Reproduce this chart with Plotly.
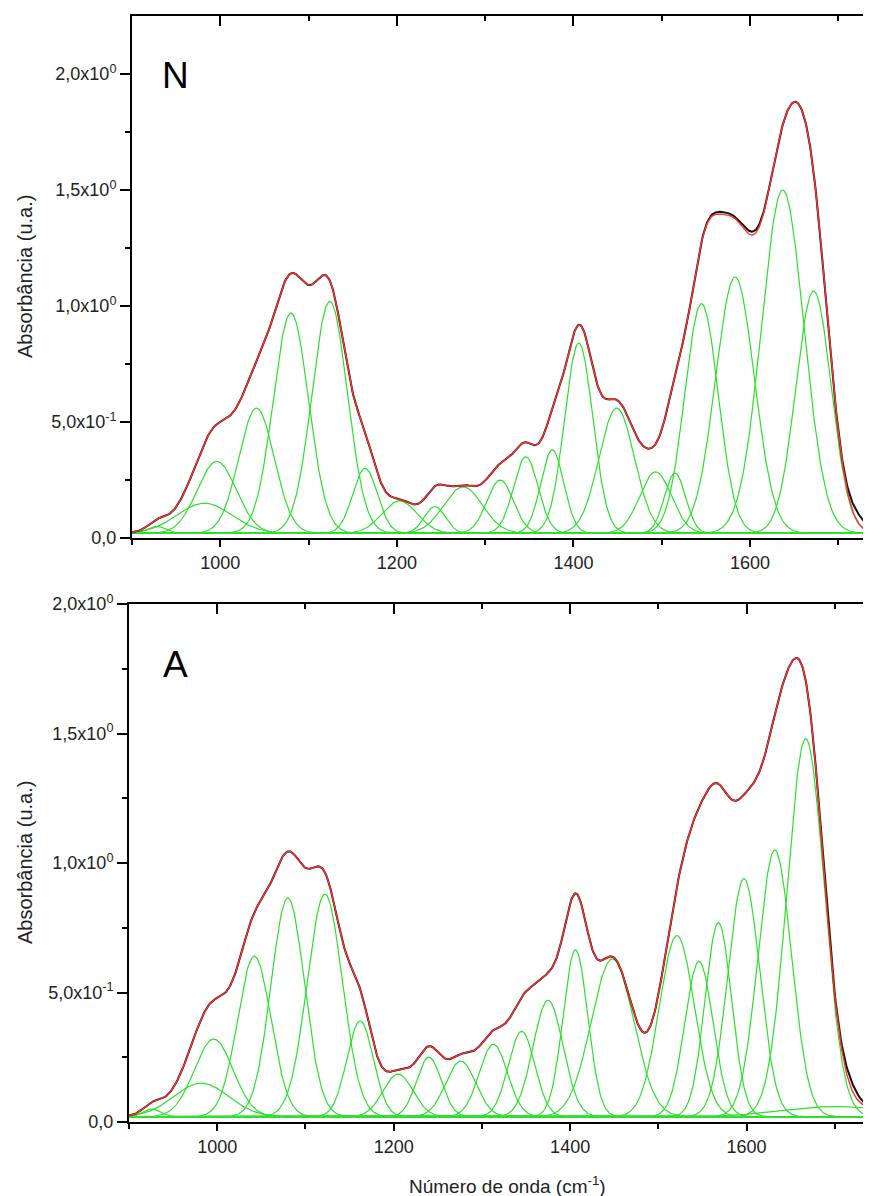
import numpy as np
import plotly.graph_objects as go

# ---------------- data ----------------
# Panel N : Gaussian components (center cm-1, height, sigma cm-1)
N_centers = [928, 982, 996, 1041, 1080, 1124, 1164, 1203, 1243, 1275, 1317, 1346, 1376,
             1406, 1449, 1493, 1515, 1545, 1583, 1637, 1672]
N_heights = [0.03, 0.13, 0.31, 0.54, 0.95, 1.00, 0.28, 0.14, 0.115, 0.20, 0.23, 0.33, 0.36,
             0.82, 0.54, 0.265, 0.26, 0.99, 1.105, 1.48, 1.045]
N_sigmas = [10, 31, 22, 20, 20, 20, 14, 20, 12, 22, 15, 14, 13,
            16, 20, 18, 12, 19, 22, 24, 20]
# small differences between measured spectrum (black) and fit (red), panel N
N_resid_centers = [1568, 1602, 1722]
N_resid_heights = [0.01, 0.015, 0.04]
N_resid_sigmas = [12, 10, 10]

# Panel A : Gaussian components
A_centers = [926, 982, 996, 1042, 1080, 1122, 1162, 1205, 1240, 1276, 1313, 1345, 1375,
             1406, 1448, 1521, 1546, 1568, 1597, 1632, 1667, 1700]
A_heights = [0.03, 0.13, 0.30, 0.62, 0.845, 0.86, 0.37, 0.165, 0.23, 0.215, 0.28, 0.33, 0.45,
             0.645, 0.61, 0.70, 0.60, 0.75, 0.92, 1.03, 1.46, 0.04]
A_sigmas = [10, 31, 22, 19, 19, 20, 15, 17, 14, 17, 16, 15, 17,
            14, 24, 20, 16, 15, 18, 19, 21, 60]
A_resid_centers = [1718]
A_resid_heights = [0.03]
A_resid_sigmas = [10]

BASELINE = 0.02
wn = np.arange(900, 1746, 1.0)

y_tickvals = [0, 0.5, 1.0, 1.5, 2.0]
y_ticktext = ["0,0", "5,0x10<sup>-1</sup>", "1,0x10<sup>0</sup>", "1,5x10<sup>0</sup>", "2,0x10<sup>0</sup>"]
y_minor = [0.25, 0.75, 1.25, 1.75]
panel_labels = ["N", "A"]
y_title = "Absorbância (u.a.)"
x_title = "Número de onda (cm<sup>-1</sup>)"

# ---------------- figure ----------------
# the page body has an 8 px margin, so every screen position below is
# converted to figure coordinates by removing that offset
OFF = 8
W, H = 871 - OFF, 1196 - OFF
FONT = "Arial, Liberation Sans, sans-serif"
GREEN = "#2de02d"


def fx(p):
    return (p - OFF) / W


def fy(p):
    return 1 - (p - OFF) / H


def gauss(c, h, s):
    return h * np.exp(-(wn - c) ** 2 / (2.0 * s * s))


fig = go.Figure()

panels = [
    (N_centers, N_heights, N_sigmas, N_resid_centers, N_resid_heights, N_resid_sigmas, "x", "y"),
    (A_centers, A_heights, A_sigmas, A_resid_centers, A_resid_heights, A_resid_sigmas, "x2", "y2"),
]

for cs, hs, ss, rc, rh, rs, xa, ya in panels:
    fit = np.full_like(wn, BASELINE)
    for c, h, s in zip(cs, hs, ss):
        comp = gauss(c, h, s)
        fit = fit + comp
        fig.add_trace(go.Scatter(x=wn, y=BASELINE + comp, mode="lines",
                                 line=dict(color=GREEN, width=1.2),
                                 xaxis=xa, yaxis=ya, showlegend=False, hoverinfo="skip"))
    data = fit.copy()
    for c, h, s in zip(rc, rh, rs):
        data = data + gauss(c, h, s)
    fig.add_trace(go.Scatter(x=wn, y=data, mode="lines",
                             line=dict(color="#111111", width=2.0),
                             xaxis=xa, yaxis=ya, showlegend=False, hoverinfo="skip"))
    fig.add_trace(go.Scatter(x=wn, y=fit, mode="lines",
                             line=dict(color="#ff3030", width=1.4),
                             xaxis=xa, yaxis=ya, showlegend=False, hoverinfo="skip"))

# dummy traces so that mirror axes are drawn
for xa, ya in [("x3", "y"), ("x4", "y2"), ("x", "y3"), ("x2", "y4")]:
    fig.add_trace(go.Scatter(x=[None], y=[None], xaxis=xa, yaxis=ya,
                             showlegend=False, hoverinfo="skip"))

tickfont = dict(family=FONT, size=18, color="#222222")


def xaxis_main(dom_left, rng, anchor):
    return dict(domain=[fx(dom_left), 1], range=rng, anchor=anchor, automargin=False,
                showline=True, linewidth=2, linecolor="black",
                ticks="outside", ticklen=7, tickwidth=1.5, tickcolor="black",
                tickmode="linear", tick0=0, dtick=200,
                minor=dict(ticks="outside", ticklen=5, tickwidth=1.5, tickcolor="black",
                           tickmode="linear", tick0=0, dtick=100),
                showgrid=False, zeroline=False, tickfont=tickfont)


def xaxis_top(dom_left, rng, over, anchor):
    return dict(domain=[fx(dom_left), 1], range=rng, overlaying=over, anchor=anchor, side="top",
                automargin=False, showline=True, linewidth=2, linecolor="black",
                ticks="inside", ticklen=10, tickwidth=1.5, tickcolor="black",
                tickmode="linear", tick0=0, dtick=200,
                minor=dict(ticks="inside", ticklen=5, tickwidth=1.5, tickcolor="black",
                           tickmode="linear", tick0=0, dtick=100),
                showticklabels=False, showgrid=False, zeroline=False)


def yaxis_main(dom, rng, anchor):
    return dict(domain=dom, range=rng, anchor=anchor, automargin=False,
                showline=True, linewidth=2, linecolor="black",
                ticks="outside", ticklen=10, tickwidth=1.5, tickcolor="black",
                tickmode="array", tickvals=y_tickvals, ticktext=y_ticktext,
                minor=dict(ticks="outside", ticklen=5, tickwidth=1.5, tickcolor="black",
                           tickmode="array", tickvals=y_minor),
                showgrid=False, zeroline=False, tickfont=tickfont)


def yaxis_right(dom, rng, over, anchor):
    return dict(domain=dom, range=rng, overlaying=over, anchor=anchor, side="right",
                automargin=False, showline=False, ticks="inside", ticklen=4, tickwidth=1.5,
                tickcolor="black", tickmode="array", tickvals=y_tickvals, showticklabels=False,
                showgrid=False, zeroline=False)


top_dom = [fy(538), fy(16)]
bot_dom = [fy(1122), fy(604)]
top_xr = [900, 1737]
bot_xr = [900, 1741]

fig.update_layout(
    width=W, height=H, margin=dict(l=0, r=0, t=0, b=0, pad=0, autoexpand=False),
    paper_bgcolor="white", plot_bgcolor="white", showlegend=False,
    xaxis=xaxis_main(132, top_xr, "y"),
    yaxis=yaxis_main(top_dom, [0, 2.25], "x"),
    xaxis2=xaxis_main(129, bot_xr, "y2"),
    yaxis2=yaxis_main(bot_dom, [0, 2.0], "x2"),
    xaxis3=xaxis_top(132, top_xr, "x", "y"),
    xaxis4=xaxis_top(129, bot_xr, "x2", "y2"),
    yaxis3=yaxis_right(top_dom, [0, 2.25], "y", "x"),
    yaxis4=yaxis_right(bot_dom, [0, 2.0], "y2", "x2"),
)

ann = []
for lab, py in zip(panel_labels, [75, 664]):
    ann.append(dict(text=lab, x=fx(175), y=fy(py), xref="paper", yref="paper",
                    showarrow=False, xanchor="center", yanchor="middle",
                    font=dict(family=FONT, size=37, color="black")))
for py in [277, 863]:
    ann.append(dict(text=y_title, x=fx(25), y=fy(py), xref="paper", yref="paper",
                    showarrow=False, textangle=-90, xanchor="center", yanchor="middle",
                    font=dict(family=FONT, size=20, color="#222222")))
ann.append(dict(text=x_title, x=fx(507), y=fy(1185), xref="paper", yref="paper",
                showarrow=False, xanchor="center", yanchor="middle",
                font=dict(family=FONT, size=19, color="#222222")))
fig.update_layout(annotations=ann)

fig.write_html("out.html")
